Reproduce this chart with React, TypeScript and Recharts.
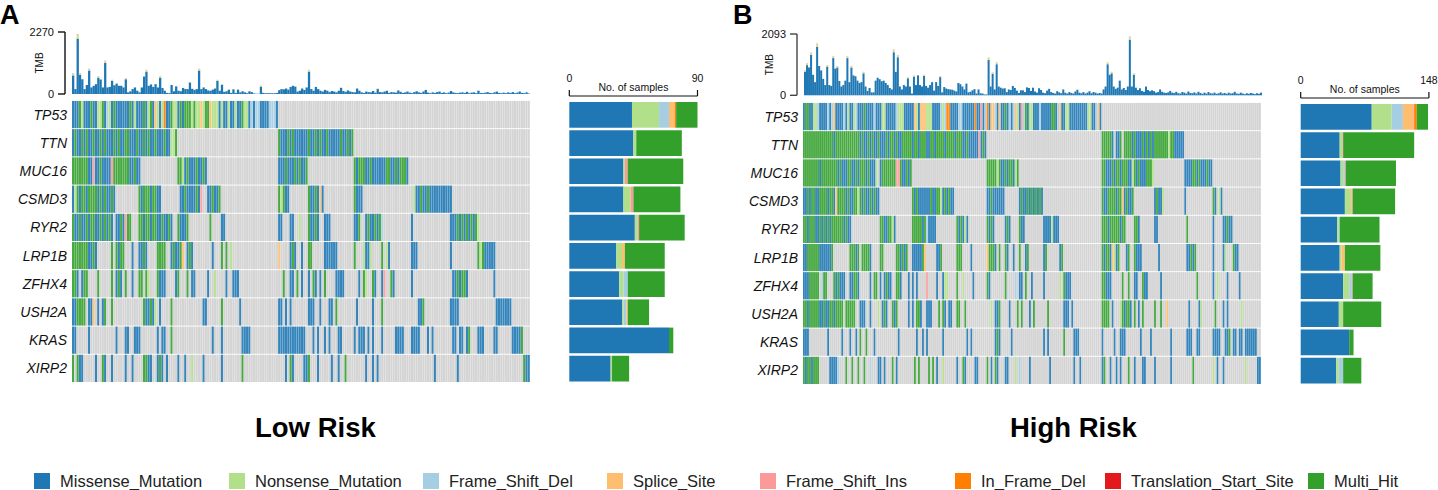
import { Bar, BarChart, Cell, XAxis, YAxis } from 'recharts';

type Run = [number, string];
const FONT = '"Liberation Sans", Arial, sans-serif';

const genes = ['TP53', 'TTN', 'MUC16', 'CSMD3', 'RYR2', 'LRP1B', 'ZFHX4', 'USH2A', 'KRAS', 'XIRP2'];
const lowPct = ['45%', '43%', '42%', '39%', '41%', '35%', '31%', '32%', '29%', '26%'];
const highPct = ['60%', '59%', '46%', '46%', '40%', '37%', '37%', '37%', '31%', '31%'];

const legendNames = ['Missense_Mutation', 'Nonsense_Mutation', 'Frame_Shift_Del', 'Splice_Site', 'Frame_Shift_Ins', 'In_Frame_Del', 'Translation_Start_Site', 'Multi_Hit'];
const legendKeys = ['m', 'n', 'f', 's', 'i', 'd', 't', 'h'];
const legendLeft = [34, 229, 423, 607, 760, 955, 1105, 1308];
const colors: Record<string, string> = {
  m: '#1f78b4', n: '#b2df8a', f: '#a6cee3', s: '#fdbf6f', i: '#fb9a99', d: '#ff7f00', t: '#e31a1c', h: '#33a02c',
};

// low risk cohort: [first sample, calls]
const lowTP53: Run[] = [[0, 'mmmhnmmmhmmnnhmfnmhmmmmmmhmnmmmhmnhmsnmndmmhnnmhmhhhnhnnsnhhsnnnmnmmnmmnmmhnnmfmffmmmmfffm']];
const lowTTN: Run[] = [
  [0, 'mhmmhmhmmhmmhmhmmmhmhmmhhmmmhmmhmhmmhmmmhmmnnh'],
  [90, 'hmmmhmhmmmmmmhmmhmhmmhmmmmmhmmhmh'],
];
const lowMUC16: Run[] = [
  [0, 'hhhhhhhmmimmhmmmmihhhhhhhmmhmm'],
  [46, 'hhnmhmmmhmmhm'],
  [90, 'mmmhmmmhmhmmh'],
  [123, 'hmhhhmmhmmmmmmhhmmhmhhhm'],
];
const lowCSMD3: Run[] = [
  [0, 'mnhmhhmhhhhmhmhmmhm'],
  [29, 'hmhhhmhhmm'],
  [47, 'mmhmmmmhmi'],
  [59, 'mmhmmh'],
  [90, 'hn'],
  [92, 'hmm'],
  [103, 'hmmhmsm'],
  [123, 'hmmm'],
  [149, 'nmmhmmhmmmmmm'],
  [162, 'mmmm'],
];
const lowRYR2: Run[] = [
  [0, 'hmmhmmhmhhmmhmhmhm'],
  [19, 'mmhmi'],
  [24, 'hh'],
  [29, 'hhmhhmhhmm'],
  [39, 'hmmhm'],
  [46, 'hmmmh'],
  [60, 'h'],
  [65, 'mm'],
  [90, 'mm'],
  [95, 'mm'],
  [99, 'n'],
  [103, 'hmmhm'],
  [110, 'mmm'],
  [123, 'mmh'],
  [128, 'mhmmhmhf'],
  [148, 'm'],
  [165, 'mmmhmhmhmhmhn'],
];
const lowLRP1B: Run[] = [
  [0, 'hhhhhhhmmhm'],
  [17, 'h'],
  [19, 'hmhh'],
  [26, 'm'],
  [29, 'mmhm'],
  [37, 'hhhh'],
  [43, 'mhm'],
  [46, 'mhm'],
  [48, 's'],
  [50, 'mhm'],
  [61, 'm'],
  [65, 'h'],
  [67, 'h'],
  [69, 'n'],
  [90, 's'],
  [95, 'mhm'],
  [100, 'm'],
  [103, 'hh'],
  [110, 'mmmmmm'],
  [123, 'h'],
  [127, 'nmmn'],
  [135, 'h'],
  [137, 'nm'],
  [148, 'mmm'],
  [165, 'm'],
  [177, 'hnhmmmmm'],
];
const lowZFHX4: Run[] = [
  [0, 'hhm'],
  [4, 'mhh'],
  [11, 'h'],
  [17, 'h'],
  [19, 'mhm'],
  [23, 'h'],
  [26, 'm'],
  [29, 'hh'],
  [32, 'hn'],
  [37, 'hmmm'],
  [45, 'mh'],
  [50, 'h'],
  [52, 'mm'],
  [59, 'm'],
  [62, 'n'],
  [67, 'm'],
  [70, 'mmm'],
  [92, 'h'],
  [95, 'mm'],
  [98, 'h'],
  [100, 'm'],
  [103, 'm'],
  [105, 'hm'],
  [108, 'm'],
  [110, 'h'],
  [115, 'mmmm'],
  [125, 'm'],
  [127, 'hn'],
  [131, 'hm'],
  [135, 'mi'],
  [139, 'hm'],
  [148, 'm'],
  [166, 'mmhmhhm'],
  [184, 'm'],
];
const lowUSH2A: Run[] = [
  [0, 'mmhhhh'],
  [7, 'mm'],
  [9, 's'],
  [11, 'm'],
  [13, 'mh'],
  [17, 'h'],
  [31, 'hmmhm'],
  [36, 'n'],
  [38, 'm'],
  [43, 'h'],
  [57, 'mm'],
  [65, 'h'],
  [73, 'm'],
  [90, 'mm'],
  [93, 'm'],
  [95, 'm'],
  [103, 'mmm'],
  [108, 'm'],
  [112, 'mm'],
  [115, 'h'],
  [124, 'm'],
  [131, 'm'],
  [135, 'h'],
  [151, 'mmh'],
  [165, 'mmmm'],
  [185, 'mmmmmmm'],
];
const lowKRAS: Run[] = [
  [0, 'mm'],
  [7, 'm'],
  [19, 'm'],
  [23, 'mm'],
  [27, 'mmm'],
  [37, 'm'],
  [39, 'mm'],
  [43, 'h'],
  [61, 'm'],
  [65, 'm'],
  [74, 'mmmm'],
  [90, 'mmmmm'],
  [95, 'mmmmmmm'],
  [105, 'm'],
  [107, 'm'],
  [110, 'm'],
  [112, 'm'],
  [116, 'mm'],
  [123, 'm'],
  [125, 'mmm'],
  [129, 'm'],
  [131, 'm'],
  [135, 'm'],
  [141, 'mmmm'],
  [148, 'mmmm'],
  [155, 'm'],
  [157, 'm'],
  [166, 'mm'],
  [169, 'mm'],
  [172, 'mh'],
  [177, 'mmm'],
  [184, 'mm'],
  [192, 'mmmm'],
  [196, 'h'],
];
const lowXIRP2: Run[] = [
  [0, 'h'],
  [2, 'hmm'],
  [10, 'm'],
  [13, 'hm'],
  [17, 'm'],
  [23, 'm'],
  [26, 'm'],
  [31, 'hhmm'],
  [37, 'mhm'],
  [41, 'm'],
  [46, 'm'],
  [49, 'm'],
  [52, 'n'],
  [57, 'm'],
  [65, 'm'],
  [74, 'h'],
  [93, 'm'],
  [95, 'hm'],
  [101, 'mm'],
  [103, 'h'],
  [107, 'm'],
  [113, 'm'],
  [116, 'm'],
  [119, 'h'],
  [128, 'm'],
  [131, 'm'],
  [133, 'm'],
  [158, 'm'],
  [168, 'm'],
  [197, 'hmm'],
];

// high risk cohort
const highTP53: Run[] = [[0, 'mhhmmnnfmmmmfmfsmmmmfmnmmnfmmmhmmmmfmmmnnmmmmmfnnnmmmmmsnmsssnnnmmmmfnfddmmmmffmmmmmmdmmimfdmssfmsmmhmfmfsnmifhmnnmmmfmmmmmhhmfsmmnnmmmmmmmmmnnmmfsm']];
const highTTN: Run[] = [
  [0, 'hhhhhhhhhhhhhhhmhhhhhhhhhhhhmhmmhmhmmhmmmhmhhmhmmhhhhhmhhmhhhmmhhmhhhhmhhhhmhhhmmhmmmmmimhm'],
  [148, 'hhhhhm'],
  [155, 'mmh'],
  [159, 'hhhhmhmmmhmhmhmhhhhhhhnhhmmmmm'],
];
const highMUC16: Run[] = [
  [0, 'hhhhhhhhmhhhhhhhhmhmmmhhmmhmhhhmhmmmn'],
  [38, 'mhhhhhhhiihmmhmh'],
  [91, 'hhhhhnhmmhmhhmnh'],
  [148, 'hhmmmhmhhmhhhmmnhmhmmmhhhn'],
  [189, 'mmmmhhmhmmmhmm'],
];
const highCSMD3: Run[] = [
  [0, 'mmhmhhmmhhhhmhhmshhhhmhmmhhnhmhmmhmhmm'],
  [54, 'hmhmmmmmmhmmhhnmhmhmm'],
  [91, 'mmhmmmmmm'],
  [107, 'mhmmhmhm'],
  [115, 'hmhm'],
  [148, 'hmmhhhhmhhsmhmmh'],
  [174, 'mhmmn'],
  [189, 'm'],
  [203, 'hm'],
  [206, 'nm'],
];
const highRYR2: Run[] = [
  [0, 'hhmhhhmmhmhmhmhhhhhhmhmm'],
  [38, 'hhmmhhnm'],
  [54, 'hhhhhmhf'],
  [62, 'mmmm'],
  [76, 'hmhmnm'],
  [91, 'hmhm'],
  [100, 'mhm'],
  [107, 'hmm'],
  [119, 'mmmm'],
  [123, 'nmmm'],
  [148, 'hhhmhhhhhmhh'],
  [164, 'hhm'],
  [174, 'mm'],
  [190, 'h'],
  [203, 'm'],
  [208, 'mmhmm'],
];
const highLRP1B: Run[] = [
  [0, 'mmhhhhhh'],
  [8, 'mmmmmmh'],
  [23, 'hhhmh'],
  [29, 'hhhhm'],
  [38, 'hh'],
  [46, 'hhmhmh'],
  [54, 'mmmmmh'],
  [60, 's'],
  [66, 'mmh'],
  [76, 'hhh'],
  [83, 'm'],
  [91, 's'],
  [92, 'hhhm'],
  [97, 'h'],
  [100, 'hm'],
  [104, 'm'],
  [107, 'h'],
  [110, 'mh'],
  [119, 'mh'],
  [127, 'mh'],
  [148, 'hmhhms'],
  [154, 'nm'],
  [156, 'h'],
  [160, 'mh'],
  [164, 'hmmm'],
  [176, 'm'],
  [190, 'mmhmh'],
  [203, 'm'],
  [208, 'mn'],
  [213, 'hmm'],
];
const highZFHX4: Run[] = [
  [0, 'mmm'],
  [3, 'hhhhh'],
  [9, 'fhh'],
  [15, 'hmhmmm'],
  [23, 'mmhhm'],
  [33, 'm'],
  [35, 'hh'],
  [38, 'm'],
  [40, 'mhmm'],
  [46, 'hhm'],
  [52, 'm'],
  [54, 'm'],
  [56, 'm'],
  [61, 'i'],
  [66, 'm'],
  [69, 'm'],
  [70, 'nn'],
  [76, 'h'],
  [79, 'n'],
  [84, 'm'],
  [91, 'hm'],
  [100, 'h'],
  [105, 'f'],
  [107, 'mm'],
  [110, 'h'],
  [113, 'm'],
  [119, 'm'],
  [127, 'n'],
  [129, 'hmmm'],
  [148, 'hhmmm'],
  [158, 'h'],
  [161, 'h'],
  [164, 'mm'],
  [168, 'hmm'],
  [177, 'm'],
  [195, 'h'],
  [203, 'm'],
  [205, 'n'],
  [210, 'm'],
  [216, 'm'],
];
const highUSH2A: Run[] = [
  [0, 'hhmhhhhhmmhmmhhmhhhh'],
  [21, 'hhhhh'],
  [28, 'mmm'],
  [33, 'm'],
  [37, 'n'],
  [39, 'mhm'],
  [44, 'hmh'],
  [52, 'm'],
  [54, 'm'],
  [56, 'hhm'],
  [61, 'mmm'],
  [67, 'h'],
  [69, 'hm'],
  [72, 'mm'],
  [76, 'hh'],
  [80, 'h'],
  [93, 'n'],
  [95, 'mmh'],
  [102, 'm'],
  [106, 'h'],
  [108, 'h'],
  [112, 'm'],
  [114, 'h'],
  [121, 'h'],
  [129, 'mmm'],
  [133, 'm'],
  [148, 'hhhh'],
  [153, 'm'],
  [157, 'nhmh'],
  [161, 'hm'],
  [164, 'h'],
  [166, 'm'],
  [168, 'h'],
  [174, 'h'],
  [177, 'h'],
  [180, 's'],
  [191, 'm'],
  [196, 'mn'],
  [204, 'h'],
  [208, 'm'],
  [210, 'm'],
  [217, 'n'],
];
const highKRAS: Run[] = [
  [0, 'mmm'],
  [12, 'm'],
  [19, 'm'],
  [23, 'm'],
  [26, 'm'],
  [28, 'h'],
  [31, 'h'],
  [35, 'm'],
  [47, 'm'],
  [56, 'm'],
  [59, 'm'],
  [61, 'm'],
  [69, 'm'],
  [81, 'm'],
  [83, 'm'],
  [95, 'mhm'],
  [103, 'm'],
  [119, 'm'],
  [121, 'm'],
  [129, 'h'],
  [134, 'mmm'],
  [148, 'm'],
  [154, 'm'],
  [157, 'mmm'],
  [167, 'm'],
  [172, 'm'],
  [182, 'm'],
  [190, 'mmm'],
  [195, 'mm'],
  [203, 'mmmm'],
  [209, 'mmh'],
  [213, 'mm'],
  [216, 'mm'],
  [219, 'mmmmmm'],
];
const highXIRP2: Run[] = [
  [0, 'hmhhmhhh'],
  [13, 'mmmmf'],
  [21, 'h'],
  [24, 'h'],
  [27, 'h'],
  [30, 'h'],
  [33, 'f'],
  [37, 'mm'],
  [40, 'm'],
  [44, 'h'],
  [46, 'm'],
  [55, 'h'],
  [57, 'h'],
  [62, 'h'],
  [64, 'h'],
  [66, 'm'],
  [69, 'n'],
  [76, 'm'],
  [79, 'hm'],
  [85, 'mm'],
  [91, 'h'],
  [93, 'm'],
  [95, 'hm'],
  [100, 'mm'],
  [105, 'n'],
  [107, 'f'],
  [112, 'm'],
  [122, 'm'],
  [134, 'm'],
  [137, 'm'],
  [148, 'mh'],
  [152, 'm'],
  [155, 'm'],
  [157, 'm'],
  [161, 'h'],
  [164, 'm'],
  [168, 'mm'],
  [174, 'm'],
  [182, 'm'],
  [193, 'h'],
  [203, 'n'],
  [205, 'm'],
  [208, 'm'],
  [219, 'n'],
  [225, 'mm'],
];

const lowTmb = [
  680, 180, 2030, 700, 540, 180, 330, 860, 240, 300, 360, 600, 530, 240, 1140, 240, 260, 480, 320, 380,
  300, 300, 240, 540, 60, 100, 180, 240, 120, 60, 240, 640, 820, 300, 350, 260, 360, 240, 600, 220,
  120, 40, 30, 330, 100, 280, 120, 100, 220, 180, 180, 420, 190, 150, 180, 860, 180, 240, 180, 130,
  120, 160, 200, 480, 120, 340, 80, 100, 160, 40, 170, 40, 160, 60, 100, 60, 30, 100, 70, 20,
  10, 10, 270, 40, 30, 30, 30, 30, 30, 40, 140, 180, 170, 200, 160, 260, 300, 270, 90, 120,
  200, 150, 240, 820, 180, 120, 260, 180, 120, 90, 150, 120, 70, 110, 90, 60, 120, 220, 110, 80,
  130, 90, 70, 60, 200, 120, 60, 40, 90, 70, 60, 110, 50, 180, 70, 60, 90, 120, 40, 70,
  60, 50, 130, 80, 40, 60, 90, 50, 30, 70, 100, 60, 40, 90, 150, 50, 30, 60, 40, 70,
  90, 40, 60, 30, 50, 110, 60, 40, 30, 50, 60, 40, 80, 30, 50, 60, 30, 120, 40, 30,
  50, 70, 40, 30, 60, 90, 40, 30, 50, 30, 60, 40, 70, 30, 50, 90, 40, 30, 60, 20,
];
const highTmb = [
  800, 1030, 950, 1380, 700, 450, 1650, 1000, 850, 560, 350, 980, 350, 320, 1270, 910, 950, 490, 300, 350,
  500, 1270, 450, 950, 680, 650, 500, 420, 450, 750, 300, 150, 250, 100, 100, 500, 600, 550, 480, 500,
  420, 350, 250, 200, 1470, 800, 1300, 300, 200, 350, 300, 580, 300, 60, 640, 350, 680, 350, 300, 660,
  320, 260, 350, 450, 160, 450, 320, 620, 100, 280, 230, 210, 200, 190, 160, 130, 420, 380, 300, 200,
  400, 100, 120, 170, 210, 60, 200, 70, 60, 30, 30, 1210, 300, 730, 200, 1060, 300, 260, 230, 240,
  110, 200, 180, 320, 250, 160, 80, 170, 170, 110, 270, 250, 150, 260, 130, 90, 240, 180, 90, 70,
  160, 220, 110, 80, 60, 140, 100, 70, 200, 90, 60, 110, 80, 60, 130, 190, 90, 70, 110, 60,
  90, 140, 70, 110, 90, 60, 80, 60, 200, 300, 1060, 700, 750, 300, 220, 260, 500, 200, 250, 180,
  300, 1900, 300, 700, 260, 180, 240, 150, 120, 300, 180, 140, 170, 140, 90, 110, 200, 120, 90, 80,
  100, 150, 90, 80, 120, 70, 60, 110, 90, 60, 130, 80, 70, 100, 60, 120, 80, 50, 90, 60,
  110, 70, 60, 90, 50, 70, 100, 60, 80, 50, 90, 60, 70, 120, 60, 50, 90, 60, 40, 70,
  50, 80, 60, 40, 70, 50, 90,
];
// tops of the taller TMB bars: [sample, size of the light cap]
const lowCaps: [number, number][] = [[0, 60], [2, 120], [3, 50], [7, 50], [11, 40], [14, 60], [17, 30], [23, 30], [32, 50], [38, 40], [55, 50], [63, 30], [82, 30], [103, 50], [117, 20], [133, 20]];
const highCaps: [number, number][] = [[0, 40], [1, 50], [3, 60], [6, 90], [11, 40], [14, 50], [16, 40], [21, 50], [23, 40], [29, 40], [44, 70], [46, 60], [51, 30], [54, 30], [59, 30], [67, 30], [91, 60], [93, 40], [95, 50], [150, 50], [152, 40], [161, 80], [163, 40]];

const lowMissense = [44, 45, 38, 38, 46, 33, 35, 37, 70, 29];
const lowNonsense = [19, 2, 1, 5, 2, 4, 3, 1, 0, 1];
const lowFrameDel = [7, 0, 0, 0, 0, 0, 3, 2, 0, 0];
const lowSplice = [4, 0, 0, 0, 0, 2, 0, 1, 0, 0];
const lowFrameIns = [0, 0, 2, 2, 1, 0, 0, 0, 0, 0];
const lowInFrame = [1, 0, 0, 0, 0, 0, 0, 0, 0, 0];
const lowMulti = [15, 32, 39, 33, 32, 28, 26, 15, 3, 12];

const highMissense = [82, 45, 46, 51, 42, 45, 49, 44, 56, 41];
const highNonsense = [23, 3, 3, 7, 2, 2, 7, 5, 0, 3];
const highFrameDel = [13, 0, 2, 0, 1, 0, 3, 0, 0, 5];
const highSplice = [12, 0, 0, 1, 0, 4, 0, 0, 0, 0];
const highFrameIns = [1, 1, 1, 1, 0, 0, 1, 0, 0, 0];
const highInFrame = [3, 0, 0, 0, 0, 0, 0, 0, 0, 0];
const highMulti = [13, 82, 58, 49, 46, 41, 23, 44, 5, 21];

const CELL = 0.967;
const ROW_GAP = 0.033;
const GRID_TOP = 10 - ROW_GAP;
// rows stack from the bottom, so XIRP2 comes first
const stackOrder = genes.map((_, i) => genes.length - 1 - i);
const rowTicks = stackOrder.map((_, i) => i + CELL / 2);

function expand(runs: Run[], n: number) {
  const calls: string[] = new Array(n).fill('');
  runs.forEach(([start, text]) => {
    text.split('').forEach((c, i) => {
      if (start + i < n) calls[start + i] = c;
    });
  });
  return calls;
}

// recharts rounds thin bars down to whole pixels, so the width comes from the band here
const bandBar = (width: number, opacity = 1) => (props: any) => (
  <rect x={props.x} y={props.y} width={width} height={props.height} fill={props.fill} fillOpacity={opacity} />
);

function Oncoplot({ left, top, n, runs, pct, band, height }: { left: number; top: number; n: number; runs: Run[][]; pct: string[]; band: number; height: number }) {
  const calls = runs.map((r) => expand(r, n));
  const rows = Array.from({ length: n }, (_, s) => {
    const row: Record<string, number> = { s };
    genes.forEach((g) => {
      row[g] = CELL;
      row[`${g}_gap`] = ROW_GAP;
    });
    return row;
  });
  const rowName = (v: number) => genes[stackOrder[Math.round(v - CELL / 2)]];
  const rowPct = (v: number) => pct[stackOrder[Math.round(v - CELL / 2)]];
  const cellShape = bandBar(band * 0.92, 0.9);
  return (
    <div style={{ position: 'absolute', left, top }}>
      <BarChart width={598} height={height} data={rows} margin={{ top: 0, right: 0, bottom: 0, left: 0 }} barSize={band} barGap={0}>
        <XAxis dataKey="s" hide />
        <YAxis yAxisId="genes" type="number" domain={[0, GRID_TOP]} ticks={rowTicks} interval={0} width={72} axisLine={false} tickLine={false} tickSize={0} tickMargin={5}
          tickFormatter={rowName} tick={{ fontFamily: FONT, fontSize: 14, fontStyle: 'italic', fill: '#111' }} />
        <YAxis yAxisId="pct" orientation="right" type="number" domain={[0, GRID_TOP]} ticks={rowTicks} interval={0} width={68} axisLine={false} tickLine={false} tickSize={0} tickMargin={2}
          tickFormatter={rowPct} tick={{ fontFamily: FONT, fontSize: 13, fill: '#111' }} />
        {stackOrder.flatMap((g) => [
          <Bar key={genes[g]} yAxisId="genes" dataKey={genes[g]} stackId="grid" isAnimationActive={false} fill="#cfcfcf" shape={cellShape}>
            {calls[g].map((c, i) => <Cell key={i} fill={c ? colors[c] : '#cfcfcf'} />)}
          </Bar>,
          <Bar key={`${genes[g]}_gap`} yAxisId="genes" dataKey={`${genes[g]}_gap`} stackId="grid" isAnimationActive={false} fill="none" />,
        ])}
      </BarChart>
    </div>
  );
}

function TmbPlot({ left, top, values, caps, max, axisX, color, band, height }: { left: number; top: number; values: number[]; caps: [number, number][]; max: number; axisX: number; color: string; band: number; height: number }) {
  const capAt = new Map(caps);
  const rows = values.map((tmb, s) => ({ s, tmb, capA: capAt.get(s) ?? 0, capB: (capAt.get(s) ?? 0) / 3 }));
  const tmbShape = bandBar(band);
  return (
    <div style={{ position: 'absolute', left, top }}>
      <BarChart width={axisX + 465} height={height} data={rows} margin={{ top: 10, right: 0, bottom: 10, left: 0 }} barSize={band} barGap={0}>
        <XAxis dataKey="s" hide padding={{ left: 7, right: 0 }} />
        <YAxis type="number" domain={[0, max]} ticks={[0, max]} interval={0} width={axisX} tickSize={7} tickMargin={4}
          axisLine={{ stroke: color, strokeWidth: 1.4 }} tickLine={{ stroke: color, strokeWidth: 1.4 }}
          tick={{ fontFamily: FONT, fontSize: 11, fill: '#111' }}
          label={{ value: 'TMB', angle: -90, position: 'center', dx: 39 - axisX / 2, fontFamily: FONT, fontSize: 10, fill: '#111' }} />
        <Bar dataKey="tmb" stackId="t" fill="#1f78b4" isAnimationActive={false} shape={tmbShape} />
        <Bar dataKey="capA" stackId="t" fill="#d6dc8c" isAnimationActive={false} shape={tmbShape} />
        <Bar dataKey="capB" stackId="t" fill="#f7a98f" isAnimationActive={false} shape={tmbShape} />
      </BarChart>
    </div>
  );
}

function SampleBars({ left, top, plotLeft, max, m, n, f, s, i, d, h }: { left: number; top: number; plotLeft: number; max: number; m: number[]; n: number[]; f: number[]; s: number[]; i: number[]; d: number[]; h: number[] }) {
  const rows = genes.map((gene, k) => ({ gene, m: m[k], n: n[k], f: f[k], s: s[k], i: i[k], d: d[k], h: h[k] }));
  return (
    <div style={{ position: 'absolute', left, top }}>
      <BarChart layout="vertical" width={plotLeft + 128.2 + 9} height={323} data={rows} margin={{ top: 0, right: 9, bottom: 0, left: plotLeft }} barSize={25.7}>
        <XAxis type="number" orientation="top" domain={[0, max]} ticks={[0, max]} interval={0} height={36} tickSize={6} tickMargin={8}
          axisLine={{ stroke: '#111', strokeWidth: 1.2 }} tickLine={{ stroke: '#111', strokeWidth: 1.2 }}
          tick={{ fontFamily: FONT, fontSize: 10.5, fill: '#111' }}
          label={{ value: 'No. of samples', position: 'center', dy: 9, fontFamily: FONT, fontSize: 10.5, fill: '#111' }} />
        <YAxis type="category" dataKey="gene" hide width={0} padding={{ top: 5, bottom: 0 }} />
        {legendKeys.filter((key) => key !== 't').map((key) => (
          <Bar key={key} dataKey={key} stackId="b" fill={colors[key]} isAnimationActive={false} />
        ))}
      </BarChart>
    </div>
  );
}

function Title({ x, y, size, children }: { x: number; y: number; size: number; children: string }) {
  return <div style={{ position: 'absolute', left: x, top: y, fontFamily: FONT, fontWeight: 'bold', fontSize: size, lineHeight: 1, whiteSpace: 'nowrap', color: '#000' }}>{children}</div>;
}

export default function App() {
  return (
    <div style={{ position: 'absolute', left: 0, top: 0, width: 1438, height: 490, overflow: 'hidden', background: '#fff' }}>
      <Title x={0} y={2} size={27}>A</Title>
      <Title x={733} y={2} size={27}>B</Title>

      <TmbPlot left={0} top={22} height={82} values={lowTmb} caps={lowCaps} max={2270} axisX={65} color="#111" band={2.29} />
      <TmbPlot left={730} top={24} height={81.3} values={highTmb} caps={highCaps} max={2093} axisX={67} color="#444" band={2.018} />

      <Oncoplot left={0} top={100} n={200} pct={lowPct} band={2.29} height={282}
        runs={[lowTP53, lowTTN, lowMUC16, lowCSMD3, lowRYR2, lowLRP1B, lowZFHX4, lowUSH2A, lowKRAS, lowXIRP2]} />
      <Oncoplot left={731} top={102} n={227} pct={highPct} band={2.018} height={282}
        runs={[highTP53, highTTN, highMUC16, highCSMD3, highRYR2, highLRP1B, highZFHX4, highUSH2A, highKRAS, highXIRP2]} />

      <SampleBars left={555} top={60} plotLeft={14.3} max={90} m={lowMissense} n={lowNonsense} f={lowFrameDel} s={lowSplice} i={lowFrameIns} d={lowInFrame} h={lowMulti} />
      <SampleBars left={1286} top={62} plotLeft={14.7} max={148} m={highMissense} n={highNonsense} f={highFrameDel} s={highSplice} i={highFrameIns} d={highInFrame} h={highMulti} />

      <Title x={255} y={414} size={27.5}>Low Risk</Title>
      <Title x={1010} y={414} size={27.5}>High Risk</Title>

      {legendNames.map((name, k) => (
        <div key={name}>
          <div style={{ position: 'absolute', left: legendLeft[k], top: 473, width: 16, height: 16, background: colors[legendKeys[k]] }} />
          <div style={{ position: 'absolute', left: legendLeft[k] + 26, top: 473, fontFamily: FONT, fontSize: 16.5, lineHeight: '16px', whiteSpace: 'nowrap', color: '#222' }}>{name}</div>
        </div>
      ))}
    </div>
  );
}
